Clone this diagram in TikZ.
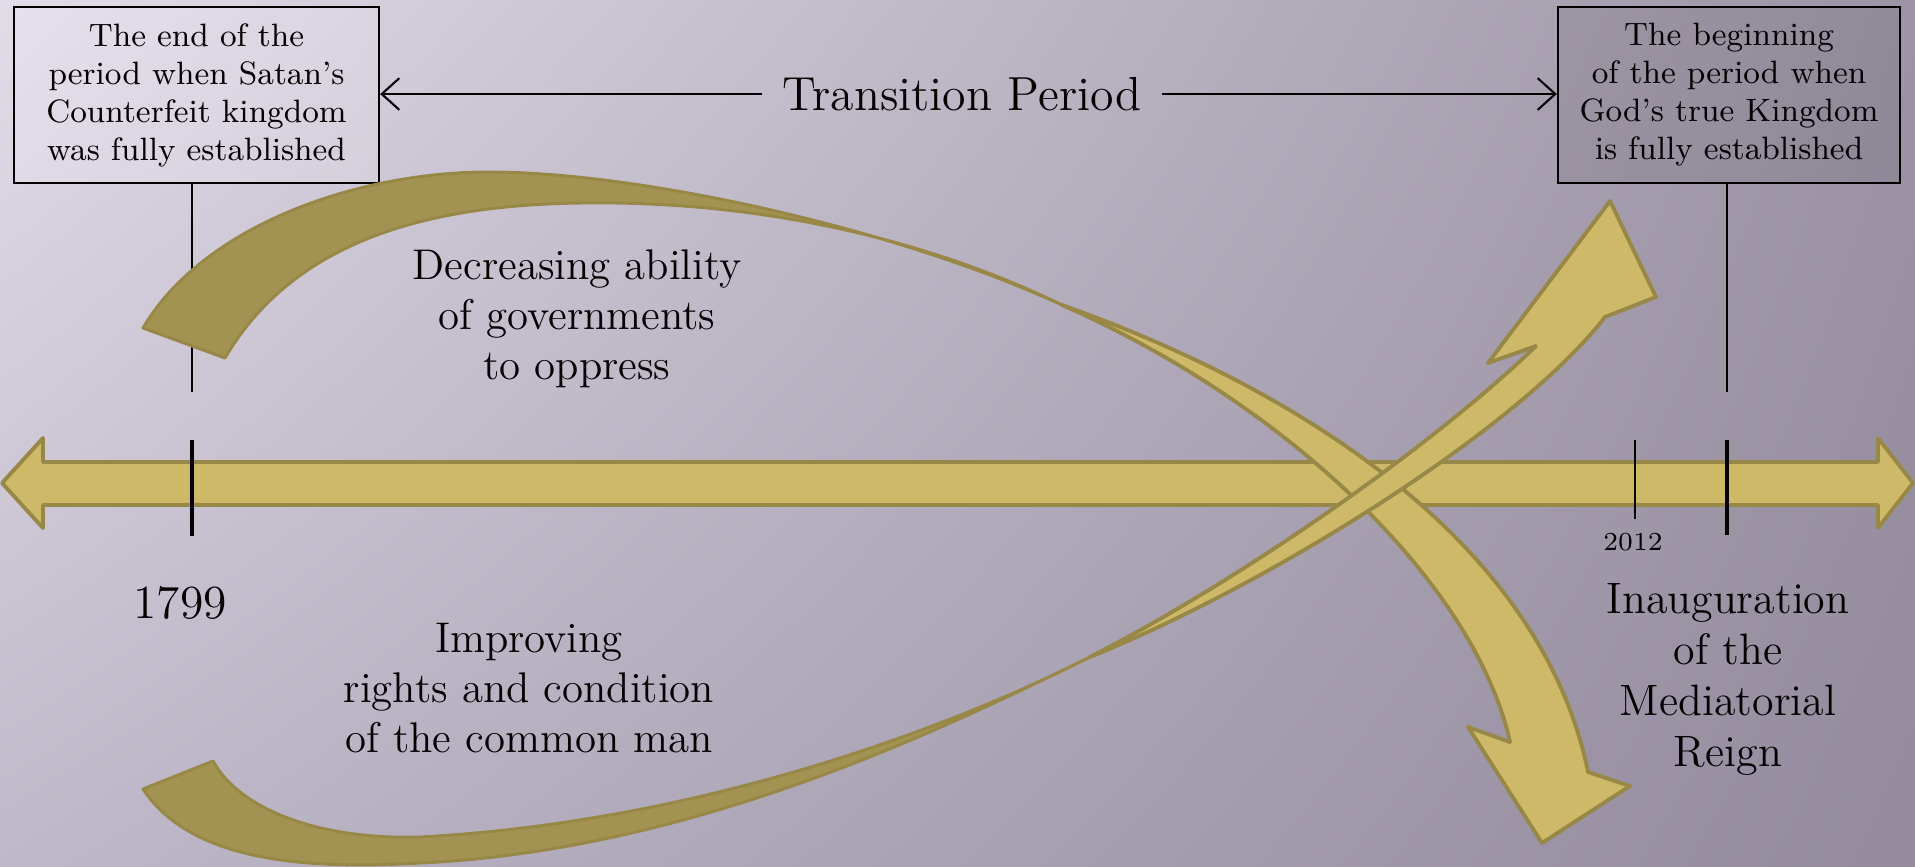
\documentclass[tikz,border=0pt]{standalone}
\usetikzlibrary{arrows.meta,shadings}
\definecolor{bgUL}{HTML}{E2DCE9}
\definecolor{bgUR}{HTML}{9C94A4}
\definecolor{bgLL}{HTML}{BEB8C8}
\definecolor{bgLR}{HTML}{938B9D}
\definecolor{goldlight}{HTML}{CDB968}
\definecolor{golddark}{HTML}{A39352}
\definecolor{goldedge}{HTML}{988848}
\begin{document}
\begin{tikzpicture}[x=0.01cm,y=-0.01cm,
  ribbonlight/.style={fill=goldlight, draw=goldedge, line width=1.1pt, line join=round},
  ribbondark/.style={fill=golddark, draw=goldedge, line width=0.85pt, line join=round},
  boxst/.style={draw=black, line width=0.6pt, align=center, inner sep=0pt, minimum height=1.76cm, text opacity=1,
     font=\fontsize{9.2pt}{10.8pt}\selectfont},
  tparrow/.style={-{Straight Barb[length=5pt,width=9pt]}, line width=0.6pt},
  thinline/.style={line width=0.45pt},
  tickmark/.style={line width=1.2pt},
  lbl/.style={align=center, inner sep=0pt, font=\fontsize{12.2pt}{14.2pt}\selectfont}]
\useasboundingbox (0,0) rectangle (1915,866);
\shade[upper left=bgUL, upper right=bgUR, lower left=bgLL, lower right=bgLR] (0,0) rectangle (1915,866);

% boxes
\node[boxst, minimum width=3.65cm, fill=white, fill opacity=0.15] (lbox) at (196.5,95)
  {The end of the\\period when Satan’s\\Counterfeit kingdom\\was fully established};
\node[boxst, minimum width=3.42cm, fill=black, fill opacity=0.07] (rbox) at (1729,95)
  {The beginning\\of the period when\\God’s true Kingdom\\is fully established};

% transition period
\node[font=\fontsize{13.6pt}{16pt}\selectfont, inner xsep=0.2cm] (tp) at (962,94) {Transition Period};
\draw[tparrow] (tp.west) -- (tp.west -| lbox.east);
\draw[tparrow] (tp.east) -- (tp.east -| rbox.west);

% thin vertical lines
\coordinate (c1) at (192,392);
\coordinate (c2) at (1727,392);
\draw[thinline] (lbox.south -| c1) -- (c1);
\draw[thinline] (rbox.south -| c2) -- (c2);

% time line bar
\draw[ribbonlight] (2,483) -- (43,438) -- (43,462) -- (1878,462) -- (1878,438) -- (1913,483)
  -- (1878,528) -- (1878,505) -- (43,505) -- (43,528) -- cycle;
\draw[tickmark] (192,440) -- (192,536);
\draw[tickmark] (1727,440) -- (1727,535);
\draw[line width=0.55pt] (1635,440) -- (1635,519);

% top (decreasing) curved arrow
\draw[ribbondark] (143,328) .. controls (200,230) and (350,172) .. (489,172)
  .. controls (640,172) and (895,228) .. (1062,305)
  .. controls (945,248) and (780,200) .. (580,203)
  .. controls (450,205) and (300,230) .. (225,358) -- cycle;
\draw[ribbonlight] (1062,305) .. controls (1330,400) and (1545,560) .. (1588,772)
  -- (1630,786) -- (1542,843) -- (1468,727) -- (1510,742)
  .. controls (1475,585) and (1290,405) .. (1062,305) -- cycle;

% bottom (improving) curved arrow
\draw[ribbondark] (143,789) .. controls (190,860) and (300,870) .. (420,863)
  .. controls (700,850) and (950,725) .. (1090,657)
  .. controls (950,728) and (700,822) .. (420,837)
  .. controls (320,840) and (240,810) .. (213,761) -- cycle;
\draw[ribbonlight] (1090,657) .. controls (1275,582) and (1520,427) .. (1605,317)
  -- (1656,297) -- (1610,201) -- (1488,363) -- (1536,346)
  .. controls (1438,441) and (1250,575) .. (1090,657) -- cycle;

% labels
\node[lbl] (dec) at (577,319) {Decreasing ability\\of governments\\to oppress};
\node[lbl] (imp) at (529,688) {Improving\\rights and condition\\of the common man};
\node[font=\fontsize{13.5pt}{16pt}\selectfont] (y1799) at (180,603) {1799};
\node[lbl, font=\fontsize{12.5pt}{14.5pt}\selectfont] (inaug) at (1728,679) {Inauguration\\of the\\Mediatorial\\Reign};
\node[font=\fontsize{7.4pt}{9pt}\selectfont] (y2012) at (1633,542) {2012};
\end{tikzpicture}
\end{document}
